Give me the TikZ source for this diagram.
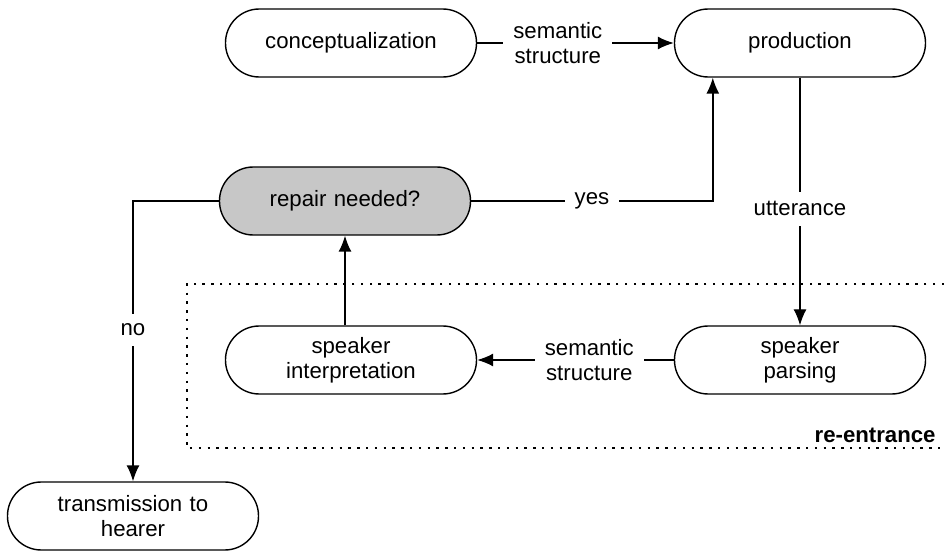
\documentclass[tikz,border=0pt]{standalone}
\usepackage{fontspec}
\setmainfont{Liberation Sans}
\usetikzlibrary{arrows.meta,positioning}
\tikzset{line/.style={draw, line width=0.7pt, -{Latex[length=8pt,width=6.5pt]}}}

\begin{document}
\begin{tikzpicture}[x=0.5pt, y=-0.5pt, font=\fontsize{11.1}{12.5}\selectfont]
\tikzstyle{block} = [rectangle, rounded corners=16.9pt, draw, line width=0.7pt, text width=110pt, align=center, minimum width=125.5pt, minimum height=34pt, inner sep=0pt]
\tikzstyle{edgetext} = [fill=white, align=center, inner sep=5pt]
\tikzstyle{reentry} = [draw, line width=0.7pt, dash pattern=on 1.2pt off 3.2pt]

\useasboundingbox (0,0) rectangle (944,551);

% blocks
    \node [block] (concept) at (351,43) {conceptualization};
    \node [block] (production) at (800,43) {production};
    \node [block, fill=black!22] (repair) at (345,201) {repair needed?};
    \node [block] (parsing) at (800,360) {speaker\\parsing};
    \node [block] (interp) at (351,360) {speaker\\interpretation};
    \node [block] (transmission) at (133,516) {transmission to\\hearer};
    % re-entrance
    \coordinate (reentry top) at (944,284);
    \coordinate (reentry bottom) at (944,448);
    \node [anchor=base east, inner sep=0pt, font=\fontsize{11.1}{12.5}\selectfont\bfseries] (reentrance) at (936,443) {re-entrance};
% arrows
    \path [line] (concept.east) -- node[edgetext, pos=0.41]{semantic\\structure} (production.west);
    \path [line] (production.south) -- node[edgetext, pos=0.53]{utterance} (parsing.north);
    \path [line] (parsing.west) -- node[edgetext, pos=0.43]{semantic\\structure} (interp.east);
    \path [line] (interp.north -| repair.south) -- (repair.south);
    \path [line] (repair.east) -| node[edgetext, pos=0.25]{yes} ([xshift=19.5pt]production.south west);
    \path [line] (repair.west) -| node[edgetext, pos=0.73]{no} (transmission.north);
    % re-entrance box
    \path [reentry] (reentry top) -- (187,284) -- (187,448) -- (reentry bottom);
\end{tikzpicture}
\end{document}
